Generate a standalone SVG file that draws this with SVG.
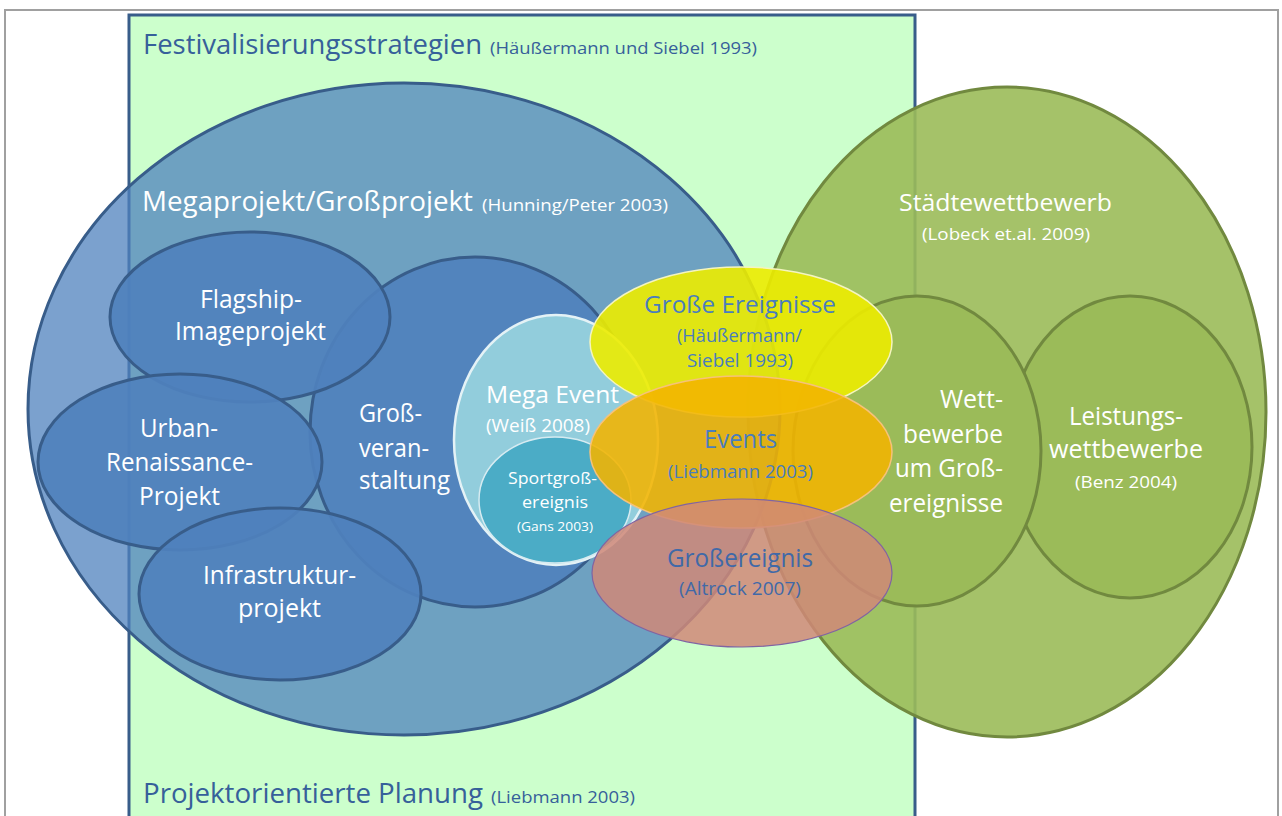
<svg xmlns="http://www.w3.org/2000/svg" width="1282" height="816" viewBox="0 0 1282 816">
<style>
text{font-family:"Open Sans","Noto Sans","Liberation Sans",sans-serif;}
.w{fill:#ffffff;}
.db{fill:#36609a;}
.mb{fill:#4a7dbd;}
.pb{fill:#4069a8;}
.blueIn{fill:#4f81bd;fill-opacity:0.92;stroke:#385d8a;stroke-width:3;}
.greenIn{fill:#9bbb59;stroke:#71893f;stroke-width:3;}
</style>
<rect x="0" y="0" width="1282" height="816" fill="#ffffff"/>
<rect x="5" y="10" width="1273" height="830" fill="none" stroke="#a0a0a0" stroke-width="2"/>
<g id="festivalisierung">
<rect x="129" y="15" width="786" height="830" fill="#ccffcc" stroke="#385d8a" stroke-width="3"/>
<text x="143" y="54" font-size="27" class="db" textLength="339" lengthAdjust="spacingAndGlyphs">Festivalisierungsstrategien</text>
<text x="490" y="54" font-size="16" class="db" textLength="267" lengthAdjust="spacingAndGlyphs">(Häußermann und Siebel 1993)</text>
</g>
<g id="projektorientiert">
<text x="143" y="803" font-size="27" class="db" textLength="340" lengthAdjust="spacingAndGlyphs">Projektorientierte Planung</text>
<text x="491" y="803" font-size="16" class="db" textLength="144" lengthAdjust="spacingAndGlyphs">(Liebmann 2003)</text>
</g>
<g id="staedtewettbewerb">
<ellipse cx="1007" cy="412" rx="259" ry="325" fill="#9bbb59" fill-opacity="0.9" stroke="#71893f" stroke-width="3"/>
<text x="899" y="211" font-size="24" class="w" textLength="213" lengthAdjust="spacingAndGlyphs">Städtewettbewerb</text>
<text x="922" y="240" font-size="16" class="w" textLength="168" lengthAdjust="spacingAndGlyphs">(Lobeck et.al. 2009)</text>
</g>
<g id="megaprojekt">
<ellipse cx="404" cy="409" rx="376" ry="326" fill="#4f81bd" fill-opacity="0.75" stroke="#385d8a" stroke-width="3"/>
<text x="142" y="211" font-size="28" class="w" textLength="331" lengthAdjust="spacingAndGlyphs">Megaprojekt/Großprojekt</text>
<text x="482" y="211" font-size="17" class="w" textLength="186" lengthAdjust="spacingAndGlyphs">(Hunning/Peter 2003)</text>
</g>
<g id="grossveranstaltung">
<ellipse cx="475" cy="432" rx="165" ry="175" class="blueIn"/>
<text x="359" y="422" font-size="25" class="w" textLength="63" lengthAdjust="spacingAndGlyphs">Groß-</text>
<text x="359" y="457" font-size="25" class="w" textLength="70" lengthAdjust="spacingAndGlyphs">veran-</text>
<text x="359" y="489" font-size="25" class="w" textLength="91" lengthAdjust="spacingAndGlyphs">staltung</text>
</g>
<g id="flagship">
<ellipse cx="250" cy="317" rx="140" ry="85" class="blueIn"/>
<text x="200" y="308" font-size="25" class="w" textLength="102" lengthAdjust="spacingAndGlyphs">Flagship-</text>
<text x="175" y="340" font-size="25" class="w" textLength="151" lengthAdjust="spacingAndGlyphs">Imageprojekt</text>
</g>
<g id="urban">
<ellipse cx="180" cy="462" rx="142" ry="88" class="blueIn"/>
<text x="140" y="437" font-size="25" class="w" textLength="78" lengthAdjust="spacingAndGlyphs">Urban-</text>
<text x="106" y="471" font-size="25" class="w" textLength="147" lengthAdjust="spacingAndGlyphs">Renaissance-</text>
<text x="139" y="505" font-size="25" class="w" textLength="81" lengthAdjust="spacingAndGlyphs">Projekt</text>
</g>
<g id="infrastruktur">
<ellipse cx="280" cy="594" rx="141" ry="86" class="blueIn"/>
<text x="203" y="584" font-size="25" class="w" textLength="153" lengthAdjust="spacingAndGlyphs">Infrastruktur-</text>
<text x="238" y="617" font-size="25" class="w" textLength="83" lengthAdjust="spacingAndGlyphs">projekt</text>
</g>
<g id="leistungswettbewerbe">
<ellipse cx="1130" cy="447" rx="122" ry="151" class="greenIn"/>
<text x="1069" y="425" font-size="25" class="w" textLength="114" lengthAdjust="spacingAndGlyphs">Leistungs-</text>
<text x="1049" y="458" font-size="25" class="w" textLength="154" lengthAdjust="spacingAndGlyphs">wettbewerbe</text>
<text x="1075" y="488" font-size="16" class="w" textLength="102" lengthAdjust="spacingAndGlyphs">(Benz 2004)</text>
</g>
<g id="wettbewerbe">
<ellipse cx="917" cy="451" rx="124" ry="155" class="greenIn"/>
<text x="940" y="408" font-size="26" class="w" textLength="63" lengthAdjust="spacingAndGlyphs">Wett-</text>
<text x="903" y="443" font-size="26" class="w" textLength="100" lengthAdjust="spacingAndGlyphs">bewerbe</text>
<text x="895" y="477" font-size="26" class="w" textLength="108" lengthAdjust="spacingAndGlyphs">um Groß-</text>
<text x="889" y="512" font-size="26" class="w" textLength="114" lengthAdjust="spacingAndGlyphs">ereignisse</text>
</g>
<g id="megaevent">
<ellipse cx="556" cy="440" rx="102" ry="125" fill="#92cddc" stroke="#e4f2f6" stroke-width="2.5"/>
<text x="486" y="403" font-size="24" class="w" textLength="133" lengthAdjust="spacingAndGlyphs">Mega Event</text>
<text x="486" y="432" font-size="18" class="w" textLength="104" lengthAdjust="spacingAndGlyphs">(Weiß 2008)</text>
</g>
<g id="sportgrossereignis">
<ellipse cx="555" cy="500" rx="76" ry="63" fill="#4bacc6" stroke="#d6ebf1" stroke-width="1.5"/>
<text x="508" y="484" font-size="17" class="w" textLength="89" lengthAdjust="spacingAndGlyphs">Sportgroß-</text>
<text x="522" y="508" font-size="17" class="w" textLength="66" lengthAdjust="spacingAndGlyphs">ereignis</text>
<text x="517" y="531" font-size="12" class="w" textLength="76" lengthAdjust="spacingAndGlyphs">(Gans 2003)</text>
</g>
<g id="grosse-ereignisse">
<ellipse cx="741" cy="342" rx="151" ry="75" fill="#ecec00" fill-opacity="0.9" stroke="#f4f4c0" stroke-width="1.5"/>
<text x="644" y="313" font-size="24" class="mb" textLength="192" lengthAdjust="spacingAndGlyphs">Große Ereignisse</text>
<text x="677" y="342" font-size="18" class="mb" textLength="125" lengthAdjust="spacingAndGlyphs">(Häußermann/</text>
<text x="687" y="367" font-size="18" class="mb" textLength="106" lengthAdjust="spacingAndGlyphs">Siebel 1993)</text>
</g>
<g id="events">
<ellipse cx="741" cy="452" rx="151" ry="76" fill="#f2b400" fill-opacity="0.88" stroke="#f6c27a" stroke-width="1.5"/>
<text x="704" y="448" font-size="26" class="mb" textLength="73" lengthAdjust="spacingAndGlyphs">Events</text>
<text x="668" y="478" font-size="18" class="mb" textLength="145" lengthAdjust="spacingAndGlyphs">(Liebmann 2003)</text>
</g>
<g id="grossereignis">
<ellipse cx="742" cy="573" rx="150" ry="74" fill="#d08878" fill-opacity="0.85" stroke="#8064a2" stroke-width="1.2"/>
<text x="667" y="567" font-size="26" class="pb" textLength="146" lengthAdjust="spacingAndGlyphs">Großereignis</text>
<text x="679" y="595" font-size="18" class="pb" textLength="122" lengthAdjust="spacingAndGlyphs">(Altrock 2007)</text>
</g>
<g id="connectors"></g>
</svg>
